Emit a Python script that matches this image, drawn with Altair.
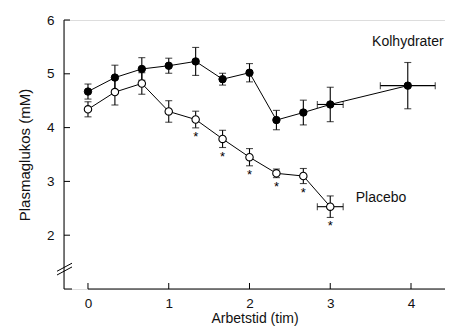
import altair as alt
import pandas as pd

# ---- data ----
t_kol = [0, 1/3, 2/3, 1, 4/3, 5/3, 2, 7/3, 8/3, 3, 3.96]
kol = [4.67, 4.93, 5.09, 5.15, 5.23, 4.90, 5.02, 4.14, 4.28, 4.43, 4.78]
kol_err = [0.14, 0.23, 0.21, 0.14, 0.26, 0.11, 0.17, 0.18, 0.23, 0.32, 0.43]
kol_xerr = [0, 0, 0, 0, 0, 0, 0, 0, 0, 0.16, 0.34]

t_pla = [0, 1/3, 2/3, 1, 4/3, 5/3, 2, 7/3, 8/3, 3]
pla = [4.34, 4.66, 4.82, 4.30, 4.15, 3.79, 3.45, 3.15, 3.10, 2.53]
pla_err = [0.14, 0.24, 0.20, 0.20, 0.155, 0.16, 0.16, 0.08, 0.14, 0.20]
pla_xerr = [0, 0, 0, 0, 0, 0, 0, 0, 0, 0.16]
pla_star = [False, False, False, False, True, True, True, True, True, True]

labels = ["Kolhydrater", "Placebo"]
label_x = [4.405, 3.315]
label_y = [5.60, 2.69]

x_ticks = [0, 1, 2, 3, 4]
y_ticks = [2, 3, 4, 5, 6]
x_domain = [-0.297, 4.421]
y_domain = [1, 6]
break_y1 = [1.33, 1.26]
break_y2 = [1.48, 1.41]

W, H = 381, 269
FONT = "Liberation Sans, Arial, Helvetica, sans-serif"

rows = []
for t, v, e, xe in zip(t_kol, kol, kol_err, kol_xerr):
    rows.append(dict(series="Kolhydrater", t=t, v=v, lo=v - e, hi=v + e,
                     xlo=t - xe, xhi=t + xe, xerr=xe, star=False))
for t, v, e, xe, s in zip(t_pla, pla, pla_err, pla_xerr, pla_star):
    rows.append(dict(series="Placebo", t=t, v=v, lo=v - e, hi=v + e,
                     xlo=t - xe, xhi=t + xe, xerr=xe, star=s))
df = pd.DataFrame(rows)

xs = alt.Scale(domain=x_domain, nice=False, zero=False)
ys = alt.Scale(domain=y_domain, nice=False, zero=False)

base = alt.Chart(df)

X = alt.X("t:Q", scale=xs, title="Arbetstid (tim)",
          axis=alt.Axis(values=x_ticks, domain=False, ticks=False, tickSize=0,
                        grid=False, labelPadding=7, titlePadding=2,
                        labelFontSize=13.5, titleFontSize=14, labelFont=FONT,
                        titleFont=FONT, labelColor="#111", titleColor="#111",
                        titleFontWeight="normal", format="d"))
Y = alt.Y("v:Q", scale=ys, title="Plasmaglukos (mM)",
          axis=alt.Axis(values=y_ticks, domain=False, ticks=False, tickSize=0,
                        grid=False, labelPadding=10, titlePadding=14,
                        labelFontSize=13.5, titleFontSize=15, labelFont=FONT,
                        titleFont=FONT, labelColor="#111", titleColor="#111",
                        titleFontWeight="normal", format="d"))

lines = base.mark_line(color="black", strokeWidth=1).encode(
    x=X, y=Y, detail="series:N")

vbars = base.mark_rule(color="black", strokeWidth=1.1).encode(
    x=alt.X("t:Q", scale=xs), y=alt.Y("lo:Q", scale=ys), y2="hi:Q")
capl = base.mark_tick(orient="horizontal", color="black", size=7, thickness=1.1).encode(
    x=alt.X("t:Q", scale=xs), y=alt.Y("lo:Q", scale=ys))
caph = base.mark_tick(orient="horizontal", color="black", size=7, thickness=1.1).encode(
    x=alt.X("t:Q", scale=xs), y=alt.Y("hi:Q", scale=ys))

xb = base.transform_filter("datum.xerr > 0")
hbars = xb.mark_rule(color="black", strokeWidth=1.1).encode(
    x=alt.X("xlo:Q", scale=xs), x2="xhi:Q", y=alt.Y("v:Q", scale=ys))
capxl = xb.mark_tick(orient="vertical", color="black", size=7, thickness=1.1).encode(
    x=alt.X("xlo:Q", scale=xs), y=alt.Y("v:Q", scale=ys))
capxh = xb.mark_tick(orient="vertical", color="black", size=7, thickness=1.1).encode(
    x=alt.X("xhi:Q", scale=xs), y=alt.Y("v:Q", scale=ys))

filled = base.transform_filter("datum.series == 'Kolhydrater'").mark_point(
    shape="circle", size=55, fill="black", stroke="black", strokeWidth=1,
    opacity=1, fillOpacity=1).encode(x=alt.X("t:Q", scale=xs), y=alt.Y("v:Q", scale=ys))
opened = base.transform_filter("datum.series == 'Placebo'").mark_point(
    shape="circle", size=55, fill="white", stroke="black", strokeWidth=1.1,
    opacity=1, fillOpacity=1).encode(x=alt.X("t:Q", scale=xs), y=alt.Y("v:Q", scale=ys))

stars = base.transform_filter("datum.star").mark_text(
    text="*", baseline="top", dy=3, fontSize=13, font=FONT, color="black").encode(
    x=alt.X("t:Q", scale=xs), y=alt.Y("lo:Q", scale=ys))

lab_df = pd.DataFrame({"label": labels, "x": label_x, "y": label_y,
                       "align": ["right", "left"]})
lab_r = alt.Chart(lab_df).transform_filter("datum.align == 'right'").mark_text(
    fontSize=14, font=FONT, color="#111", align="right", baseline="middle").encode(
    x=alt.X("x:Q", scale=xs), y=alt.Y("y:Q", scale=ys), text="label:N")
lab_l = alt.Chart(lab_df).transform_filter("datum.align == 'left'").mark_text(
    fontSize=14, font=FONT, color="#111", align="left", baseline="middle").encode(
    x=alt.X("x:Q", scale=xs), y=alt.Y("y:Q", scale=ys), text="label:N")

# ---- hand-drawn axes (detached x axis, inward ticks, axis break) ----
ax_df = pd.DataFrame({"x0": [x_ticks[0]], "x1": [x_domain[1]]})
xline = alt.Chart(ax_df).mark_rule(color="black", strokeWidth=1).encode(
    x=alt.X("x0:Q", scale=xs), x2="x1:Q", y=alt.value(H))
yline = alt.Chart(ax_df).mark_rule(color="black", strokeWidth=1).encode(
    x=alt.value(0), y=alt.value(0), y2=alt.value(H))
foot = alt.Chart(ax_df).mark_rule(color="black", strokeWidth=1).encode(
    x=alt.value(0), x2=alt.value(8), y=alt.value(H))

xt = alt.Chart(pd.DataFrame({"t": x_ticks})).mark_rule(color="black", strokeWidth=1).encode(
    x=alt.X("t:Q", scale=xs), y=alt.value(H), y2=alt.value(H - 6))
yt = alt.Chart(pd.DataFrame({"v": y_ticks})).mark_rule(color="black", strokeWidth=1).encode(
    y=alt.Y("v:Q", scale=ys), x=alt.value(0), x2=alt.value(6))

brk = alt.Chart(pd.DataFrame({"a": break_y1, "b": break_y2})).mark_rule(
    color="black", strokeWidth=1).encode(
    x=alt.value(-7), x2=alt.value(8),
    y=alt.Y("a:Q", scale=ys), y2="b:Q")

chart = alt.layer(
    lines, vbars, capl, caph, hbars, capxl, capxh, filled, opened, stars, lab_r, lab_l,
    xline, yline, foot, xt, yt, brk
).properties(
    width=W, height=H,
    autosize=alt.AutoSizeParams(type="none"),
    padding={"left": 56, "top": 12, "right": 0, "bottom": 37},
).configure_view(stroke=None).configure(background="white")

chart.save("out.html", embed_options={"renderer": "svg", "actions": False})
